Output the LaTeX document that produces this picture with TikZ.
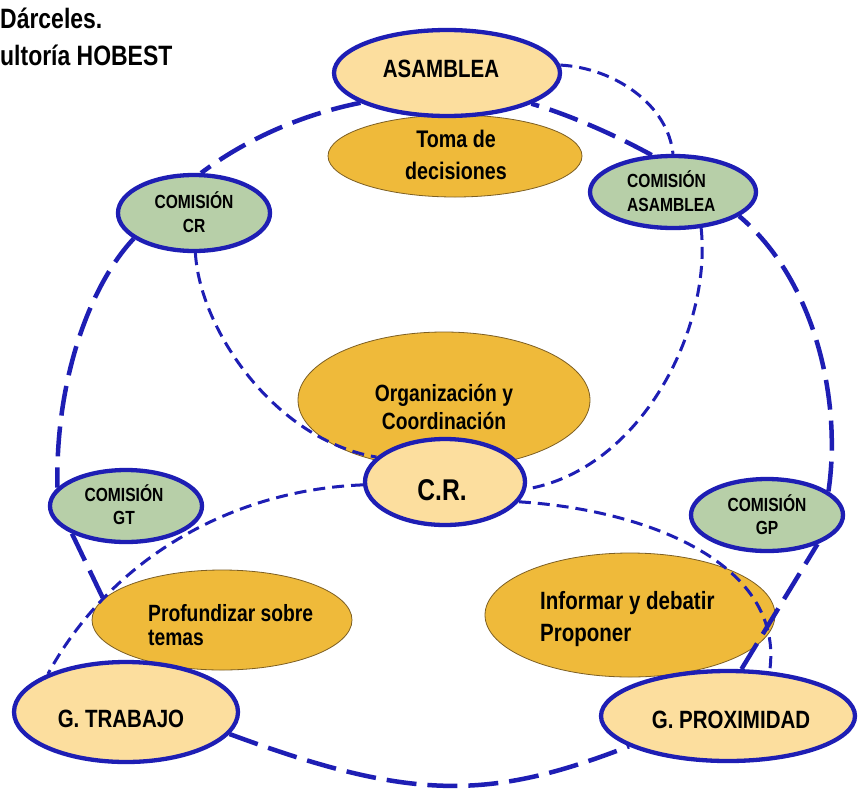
\documentclass[tikz,border=0pt]{standalone}
\usepackage{fontspec}
\setmainfont{Liberation Sans}[FakeStretch=0.82]
\usetikzlibrary{shapes.geometric}
\definecolor{bblue}{RGB}{30,30,180}
\definecolor{lightyel}{RGB}{252,222,158}
\definecolor{gold}{RGB}{239,186,58}
\definecolor{goldline}{RGB}{125,95,35}
\definecolor{comgreen}{RGB}{183,207,168}
\begin{document}
\begin{tikzpicture}[x=1pt,y=-1pt,
  mainell/.style={ellipse, draw=bblue, line width=4.3pt, fill=lightyel, inner sep=0pt},
  goldell/.style={ellipse, draw=goldline, line width=0.8pt, fill=gold, inner sep=0pt},
  comell/.style={ellipse, draw=bblue, line width=4.3pt, fill=comgreen, inner sep=0pt},
  bigdash/.style={draw=bblue, line width=4.5pt, dash pattern=on 30pt off 11pt},
  smalldash/.style={draw=bblue, line width=3pt, dash pattern=on 12pt off 7pt},
  bigtxt/.style={font=\bfseries\fontsize{25}{32}\selectfont, inner sep=0pt},
  goldtxt/.style={font=\bfseries\fontsize{24}{32}\selectfont, inner sep=0pt},
  comtxt/.style={font=\bfseries\fontsize{19}{24}\selectfont, inner sep=0pt},
  crtxt/.style={font=\bfseries\fontsize{30}{36}\selectfont, inner sep=0pt},
  titletxt/.style={font=\bfseries\fontsize{28}{34}\selectfont, inner sep=0pt}
]
\useasboundingbox (0,0) rectangle (861,790);
\fill[white] (0,0) rectangle (861,790);

% positions of the bordered nodes (drawn later, on top of the connectors)
\path
  (447,73)  node[mainell, minimum width=226pt, minimum height=86pt, draw=none, fill=none] (asm) {}
  (673,192) node[comell, minimum width=166pt, minimum height=72pt, draw=none, fill=none] (casm) {}
  (194,213) node[comell, minimum width=152pt, minimum height=76pt, draw=none, fill=none] (ccr) {}
  (445,482) node[mainell, minimum width=160pt, minimum height=86pt, draw=none, fill=none] (cr) {}
  (126,506) node[comell, minimum width=152pt, minimum height=72pt, draw=none, fill=none] (cgt) {}
  (126,712) node[mainell, minimum width=224pt, minimum height=100pt, draw=none, fill=none] (gtrab) {}
  (728,716) node[mainell, minimum width=254pt, minimum height=90pt, draw=none, fill=none] (gprox) {}
  (767,515) node[comell, minimum width=152pt, minimum height=72pt, draw=none, fill=none] (cgp) {};

% Profundizar ellipse position (drawn after the connector that ends under it)
\path (222,620) node[goldell, minimum width=260pt, minimum height=100pt, draw=none, fill=none] (prof) {};
\draw[bigdash] (cgt.207) -- (prof.170);

% gold ellipses
\node[goldell, minimum width=254pt, minimum height=82pt] (toma) at (455,156) {};
\node[goldell, minimum width=292pt, minimum height=136pt] (org) at (444,400) {};
\node[goldell, minimum width=260pt, minimum height=100pt] (profE) at (prof) {};
\node[goldell, minimum width=290pt, minimum height=124pt] (inf) at (630,615) {};

% big outer ring
\draw[bigdash] (asm.199) .. controls (300,115) and (245,140) .. (ccr.80);
\draw[bigdash] (ccr.203) .. controls (90,285) and (55,380) .. (cgt.165);
\draw[bigdash] (gtrab.-12) .. controls (411,801) and (488,801) .. (gprox.197);
\draw[bigdash] (gprox.74) -- (cgp.330);
\draw[bigdash] (cgp.21) .. controls (842,400) and (815,280) .. (casm.340);
\draw[bigdash] (casm.120) .. controls (615,135) and (570,115) .. (asm.340);

% inner short-dashed links
\draw[smalldash] (asm.4) .. controls (615,68) and (668,105) .. (casm.90);
\draw[smalldash] (casm.308) .. controls (712,330) and (640,470) .. (cr.-5);
\draw[smalldash] (ccr.-88) .. controls (200,330) and (275,440) .. (cr.160);
\draw[smalldash] (cr.182) .. controls (230,490) and (110,560) .. (gtrab.154);
\draw[smalldash] (cr.-15) .. controls (650,510) and (785,565) .. (gprox.47);

% bordered ellipses on top
\node[mainell, minimum width=226pt, minimum height=86pt] (asmE) at (asm) {};
\node[comell, minimum width=166pt, minimum height=72pt] (casmE) at (casm) {};
\node[comell, minimum width=152pt, minimum height=76pt] (ccrE) at (ccr) {};
\node[mainell, minimum width=160pt, minimum height=86pt] (crE) at (cr) {};
\node[comell, minimum width=152pt, minimum height=72pt] (cgtE) at (cgt) {};
\node[mainell, minimum width=224pt, minimum height=100pt] (gtrabE) at (gtrab) {};
\node[mainell, minimum width=254pt, minimum height=90pt] (gproxE) at (gprox) {};
\node[comell, minimum width=152pt, minimum height=72pt] (cgpE) at (cgp) {};

% texts
\node[titletxt, anchor=base west] (t1) at (0,28) {Dárceles.};
\node[titletxt, anchor=base west] (t2) at (0,65) {ultoría HOBEST};
\node[bigtxt, anchor=base] (asmT) at (441,77) {ASAMBLEA};
\node[goldtxt, align=center] (tomaT) at (456,155) {Toma de\\decisiones};
\node[comtxt, align=left, anchor=west] (casmT) at (627,191) {COMISIÓN\\ASAMBLEA};
\node[comtxt, align=center] (ccrT) at (194,212) {COMISIÓN\\CR};
\node[goldtxt, align=center, font=\bfseries\fontsize{23.5}{28}\selectfont] (orgT) at (444,407) {Organización y\\Coordinación};
\node[crtxt, anchor=base] (crT) at (442,500) {C.R.};
\node[comtxt, align=center, font=\bfseries\fontsize{19}{23}\selectfont] (cgtT) at (124,505) {COMISIÓN\\GT};
\node[comtxt, align=center, font=\bfseries\fontsize{19}{23}\selectfont] (cgpT) at (767,515) {COMISIÓN\\GP};
\node[goldtxt, align=left, anchor=west, font=\bfseries\fontsize{23.5}{24}\selectfont] (profT) at (148,625) {Profundizar sobre\\temas};
\node[goldtxt, align=left, anchor=west, font=\bfseries\fontsize{25}{32}\selectfont] (infT) at (540,619) {Informar y debatir\\Proponer};
\node[bigtxt, anchor=base] (gtrabT) at (121,727) {G. TRABAJO};
\node[bigtxt, anchor=base] (gproxT) at (731,728) {G. PROXIMIDAD};
\end{tikzpicture}
\end{document}
